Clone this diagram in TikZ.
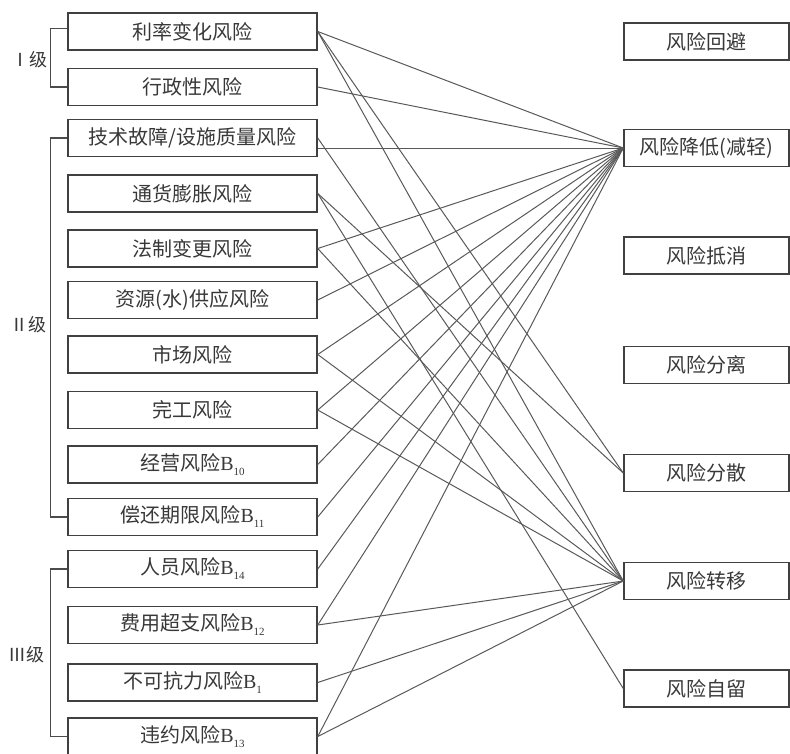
\documentclass[tikz,border=0pt]{standalone}
\usepackage{fontspec}
\setmainfont{Noto Sans CJK SC}
\newfontfamily\latfont{Liberation Serif}
\newcommand{\Bsub}[1]{{\latfont B}\raisebox{-5pt}{\latfont\fontsize{11}{11}\selectfont #1}}
\begin{document}
\begin{tikzpicture}[x=1pt,y=-1pt,
  boxbase/.style={draw=black!75, line width=1.5pt, minimum height=37pt, inner sep=0pt,
    font=\fontsize{20}{20}\selectfont, text=black!78},
  lbox/.style={boxbase, minimum width=249pt},
  rbox/.style={boxbase, minimum width=165pt},
  link/.style={draw=black!65, line width=1pt},
  brace/.style={draw=black!70, line width=1.2pt},
  level/.style={font=\fontsize{18}{18}\selectfont, text=black!78, inner sep=0pt}]
\useasboundingbox (0,0) rectangle (790,753);
% left column
\node[lbox] (b1)  at (192.5,31.5)  {利率变化风险};
\node[lbox] (b2)  at (192.5,87)    {行政性风险};
\node[lbox] (b3)  at (192.5,138)   {技术故障/设施质量风险};
\node[lbox] (b4)  at (192.5,193.5) {通货膨胀风险};
\node[lbox] (b5)  at (192.5,248.5) {法制变更风险};
\node[lbox] (b6)  at (192.5,300)   {资源(水)供应风险};
\node[lbox] (b7)  at (192.5,354.5) {市场风险};
\node[lbox] (b8)  at (192.5,410)   {完工风险};
\node[lbox] (b9)  at (192.5,464.5) {经营风险\Bsub{10}};
\node[lbox] (b10) at (192.5,517)   {偿还期限风险\Bsub{11}};
\node[lbox] (b11) at (192.5,569)   {人员风险\Bsub{14}};
\node[lbox] (b12) at (192.5,625)   {费用超支风险\Bsub{12}};
\node[lbox] (b13) at (192.5,682.5) {不可抗力风险\Bsub{1}};
\node[lbox] (b14) at (192.5,736.5) {违约风险\Bsub{13}};
% right column
\node[rbox] (r1) at (706.5,41.5)  {风险回避};
\node[rbox] (r2) at (706.5,148)   {风险降低(减轻)};
\node[rbox] (r3) at (706.5,255.5) {风险抵消};
\node[rbox] (r4) at (706.5,365)   {风险分离};
\node[rbox] (r5) at (706.5,473)   {风险分散};
\node[rbox] (r6) at (706.5,581)   {风险转移};
\node[rbox] (r7) at (706.5,688.5) {风险自留};
% level brackets
\draw[brace] ([yshift=3pt]b1.west) -- ++(-17,0) |- (b2.west);
\draw[brace] (b3.west) -- ++(-17,0) |- (b10.west);
\draw[brace] (b11.west) -- ++(-17,0) |- (b14.west);
\node[level] (l1) at (29,60)  {Ⅰ级};
\node[level] (l2) at (28,325) {Ⅱ级};
\node[level] (l3) at (27,655) {Ⅲ级};
% links to 风险降低
\foreach \b in {b1,b2,b5,b6,b7,b8,b9,b10,b11,b12,b14}
  \draw[link] (\b.east) -- (r2.west);
\draw[link] (b3.east |- r2.west) -- (r2.west);
% links to 风险转移
\foreach \b in {b1,b3,b5,b7,b8,b12,b13,b14}
  \draw[link] (\b.east) -- (r6.west);
% links to 风险分散
\draw[link] (b1.east) -- (r5.west);
\draw[link] (b4.east) -- (r5.west);
% link to 风险自留
\draw[link] (b4.east) -- (r7.west);
\end{tikzpicture}
\end{document}
